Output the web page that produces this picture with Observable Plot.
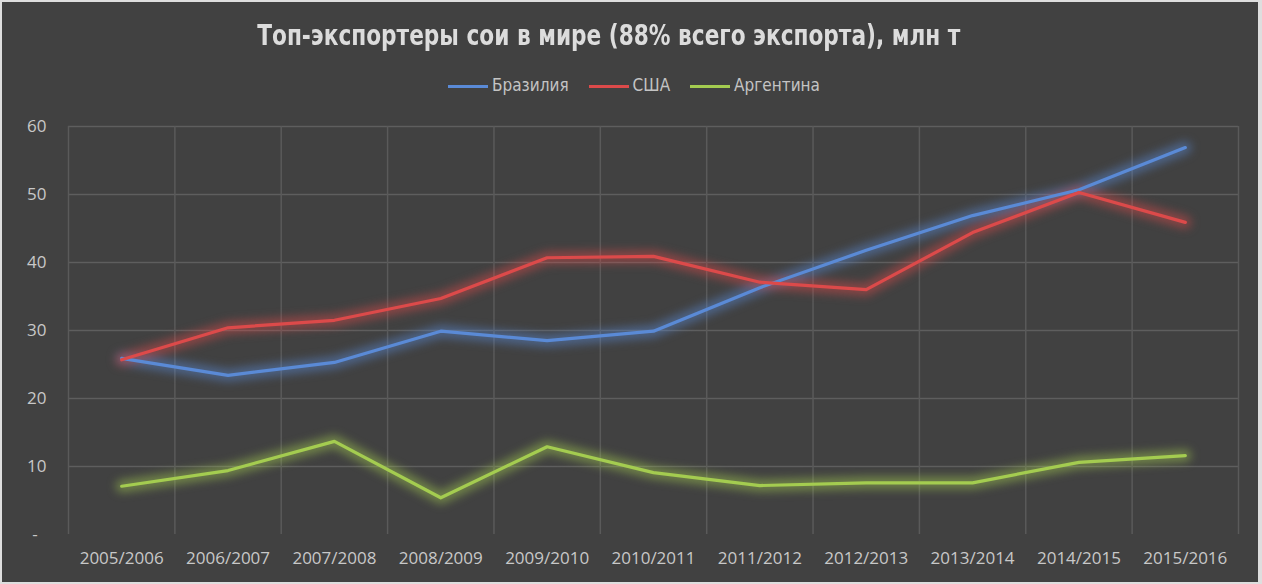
<!DOCTYPE html>
<html><head><meta charset="utf-8">
<script src="https://cdn.jsdelivr.net/npm/d3@7"></script>
<script src="https://cdn.jsdelivr.net/npm/@observablehq/plot@0.6"></script>
<style>
html,body{margin:0;padding:0;background:#dedede;}
#chart{position:absolute;left:2px;top:2px;width:1256px;height:580px;background:#414141;overflow:hidden;}
#title{height:68px;line-height:68px;text-align:center;padding-right:42px;color:#dcdcdc;font-family:"DejaVu Sans Condensed","DejaVu Sans",sans-serif;font-weight:bold;font-size:28px;}
#title span{display:inline-block;transform:scaleX(0.86);transform-origin:center;white-space:nowrap;}
#legend{height:30px;line-height:30px;text-align:center;padding-left:8px;color:#c4c4c4;font-family:"DejaVu Sans Condensed","DejaVu Sans",sans-serif;font-size:17px;}
#legend .sw{display:inline-block;width:40px;height:3px;vertical-align:middle;margin-right:4px;}
#legend .it{margin:0 10px;}
svg{display:block;}
</style></head><body>
<div id="chart">
<div id="title"><span>Топ-экспортеры сои в мире (88% всего экспорта), млн т</span></div>
<div id="legend"></div>
<div id="plot"></div>
</div>
<script>
const seasons = ["2005/2006","2006/2007","2007/2008","2008/2009","2009/2010","2010/2011","2011/2012","2012/2013","2013/2014","2014/2015","2015/2016"];
const seriesNames = ["Бразилия","США","Аргентина"];
const seriesColors = ["#5a8ad6","#dc4a4a","#a4cc50"];
const brazil = [25.9,23.4,25.3,29.9,28.5,29.9,36.3,41.8,46.9,50.7,56.9];
const usa = [25.7,30.4,31.5,34.7,40.7,40.9,37.1,36.0,44.4,50.3,45.9];
const argentina = [7.1,9.4,13.7,5.4,12.9,9.1,7.2,7.6,7.6,10.6,11.6];
const yTicks = [0,10,20,30,40,50,60];

const allSeries = [brazil, usa, argentina];
const data = [];
allSeries.forEach((vals, s) => vals.forEach((v, i) => data.push({i, season: seasons[i], series: seriesNames[s], value: v})));
const boundaries = d3.range(seasons.length + 1).map(i => i - 0.5);

const legend = document.getElementById("legend");
seriesNames.forEach((n, k) => {
  const it = document.createElement("span");
  it.className = "it";
  it.innerHTML = `<span class="sw" style="background:${seriesColors[k]}"></span>${n}`;
  legend.appendChild(it);
});

const chart = Plot.plot({
  width: 1256, height: 474,
  marginLeft: 66, marginRight: 20, marginTop: 26, marginBottom: 40,
  style: {background: "transparent", color: "#c8c8c8", fontFamily: "'Open Sans', sans-serif", fontSize: "17px"},
  x: {domain: [-0.5, seasons.length - 0.5], ticks: d3.range(seasons.length), tickFormat: i => seasons[i], tickSize: 0, tickPadding: 17, label: null},
  y: {domain: [0, 60], ticks: yTicks, tickFormat: d => d === 0 ? "-\u00a0\u00a0" : d, tickSize: 0, tickPadding: 22, label: null},
  color: {domain: seriesNames, range: seriesColors},
  marks: [
    Plot.ruleY(yTicks.filter(d => d > 0), {stroke: "#5e5e5e", strokeWidth: 1.5}),
    Plot.ruleX(boundaries, {y1: 0, y2: 60, stroke: "#5a5a5a", strokeWidth: 1.5}),
    Plot.line(data, {x: "i", y: "value", z: "series", stroke: "series", strokeWidth: 12, strokeOpacity: 0.5}),
    Plot.line(data, {x: "i", y: "value", z: "series", stroke: "series", strokeWidth: 3.2})
  ]
});
document.getElementById("plot").appendChild(chart);
const lines = chart.querySelectorAll('g[aria-label="line"]');
if (lines.length) lines[0].style.filter = "blur(5px)";
</script>
</body></html>
